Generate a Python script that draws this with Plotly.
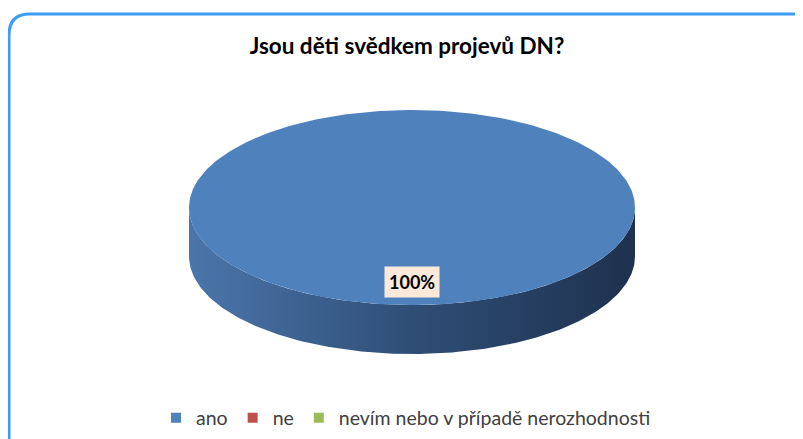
import numpy as np
import plotly.graph_objects as go

# ---- data ----
categories = ["ano", "ne", "nevím nebo v případě nerozhodnosti"]
values = [100, 0, 0]
top_colors = ["#4f81bd", "#c0504d", "#9bbb59"]
side_scales = [
    [[0, "#4b76ab"], [0.5, "#2f4e76"], [1, "#1e314e"]],
    [[0, "#b04a47"], [1, "#5e2624"]],
    [[0, "#8eab52"], [1, "#4b5c2b"]],
]
title_text = "Jsou děti svědkem projevů DN?"

W, H = 803, 439
OFF = 8  # page body margin
cx, cy, rx, ry, depth = 412, 207.5, 223, 97.5, 49

fig = go.Figure()

total = sum(values)
start = 90.0  # degrees, 12 o'clock, going clockwise
slices = []
for v in values:
    sweep = 360.0 * v / total if total else 0
    slices.append((start, start - sweep))
    start -= sweep

def ell(t, dy=0.0):
    r = np.radians(t)
    return cx + rx * np.cos(r), cy + ry * np.sin(-r) + dy

# sides (front half: angles -180..0)
for (a0, a1), col, scl in zip(slices, top_colors, side_scales):
    if a0 == a1:
        continue
    lo, hi = min(a0, a1), max(a0, a1)
    for off in (0, -360, 360):
        s, e = max(lo + off, -180), min(hi + off, 0)
        if e > s:
            t = np.linspace(s, e, 200)
            xs, ys = ell(t)
            xb, yb = ell(t[::-1], depth)
            fig.add_trace(go.Scatter(
                x=np.concatenate([xs, xb, xs[:1]]),
                y=np.concatenate([ys, yb, ys[:1]]),
                mode="lines", line=dict(width=0), fill="toself",
                fillgradient=dict(type="horizontal", colorscale=scl),
                hoverinfo="skip", showlegend=False))

# tops
for (a0, a1), col, v in zip(slices, top_colors, values):
    if a0 == a1:
        continue
    t = np.linspace(a0, a1, 400)
    xs, ys = ell(t)
    if abs(a0 - a1) < 359.999:
        xs = np.concatenate([[cx], xs, [cx]])
        ys = np.concatenate([[cy], ys, [cy]])
    fig.add_trace(go.Scatter(x=xs, y=ys, mode="lines", line=dict(width=0),
                             fill="toself", fillcolor=col,
                             hoverinfo="skip", showlegend=False))

# data labels
for (a0, a1), v in zip(slices, values):
    if v == 0:
        continue
    mid = (a0 + a1) / 2
    lx = cx + 0.76 * rx * np.cos(np.radians(mid))
    ly = cy - 0.76 * ry * np.sin(np.radians(mid))
    fig.add_annotation(x=lx, y=ly, text=f"<b>{v / total * 100:.0f}%</b>", showarrow=False,
                       bgcolor="#fde9d9", borderpad=4,
                       font=dict(family="Lato", size=18, color="#000000"))

# legend entries
for c, col in zip(categories, top_colors):
    fig.add_trace(go.Scatter(x=[None], y=[None], mode="markers", name=c,
                             marker=dict(symbol="square", size=10, color=col)))

# rounded chart border
fig.add_shape(type="path", xref="x", yref="y",
              path="M 9,460 L 9,35 Q 9,14 30,14 L 830,14",
              line=dict(color="#3d9df5", width=3), fillcolor="rgba(0,0,0,0)", layer="above")

fig.update_layout(
    width=W, height=H,
    margin=dict(l=0, r=0, t=0, b=0),
    paper_bgcolor="white", plot_bgcolor="white",
    xaxis=dict(range=[OFF, W + OFF], visible=False, fixedrange=True),
    yaxis=dict(range=[H + OFF, OFF], visible=False, fixedrange=True),
    title=dict(text=f"<b>{title_text}</b>", x=(407 - OFF) / W, xanchor="center",
               y=1 - (46 - OFF) / H, yanchor="middle",
               font=dict(family="Lato", size=22.5, color="#000000")),
    legend=dict(orientation="h", x=(406 - OFF) / W, xanchor="center", y=1 - (418 - OFF) / H,
                yanchor="middle",
                font=dict(family="Lato", size=19.5, color="#404040"), bgcolor="rgba(0,0,0,0)",
                itemwidth=30, tracegroupgap=0),
    showlegend=True,
)
fig.write_html("out.html")
